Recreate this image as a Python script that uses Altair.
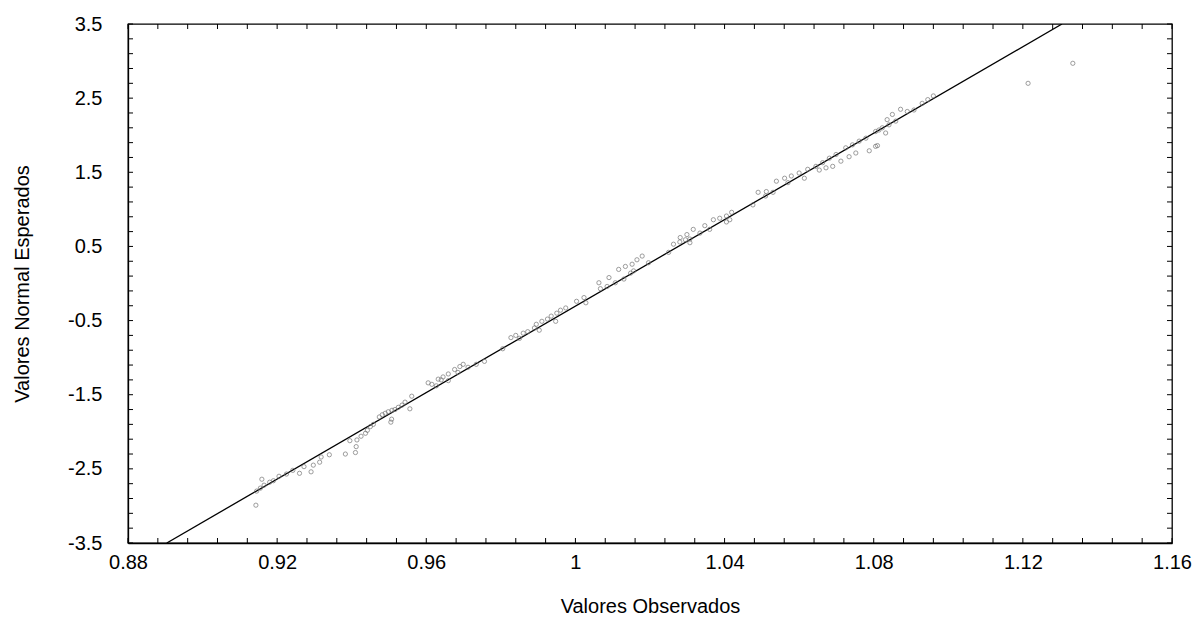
import altair as alt
import pandas as pd

obs_x = [
    0.9143, 0.9145, 0.9155, 0.9165, 0.9180, 0.9190, 0.9159, 0.9205, 0.9225, 0.9242,
    0.9260, 0.9272, 0.9291, 0.9297, 0.9314, 0.9318, 0.9340, 0.9383, 0.9410, 0.9412,
    0.9414, 0.9395, 0.9425, 0.9437, 0.9442, 0.9450, 0.9458, 0.9505, 0.9507, 0.9474,
    0.9482, 0.9490, 0.9498, 0.9508, 0.9516, 0.9525, 0.9556, 0.9535, 0.9543, 0.9561,
    0.9605, 0.9615, 0.9627, 0.9632, 0.9640, 0.9645, 0.9659, 0.9659, 0.9676, 0.9685,
    0.9690, 0.9699, 0.9712, 0.9734, 0.9756,
    0.9805, 0.9827, 0.9840, 0.9850, 0.9860, 0.9872, 0.9890, 0.9895, 0.9903, 0.9910,
    0.9925, 0.9935, 0.9947, 0.9950, 0.9960, 0.9974, 1.0003, 1.0023, 1.0028,
    1.0063, 1.0067, 1.0085, 1.0090, 1.0107, 1.0130, 1.0148, 1.0116, 1.0134, 1.0156,
    1.0152, 1.0165, 1.0179, 1.0196,
    1.0250, 1.0263, 1.0280, 1.0295, 1.0307, 1.0281, 1.0299, 1.0316, 1.0307, 1.0334,
    1.0360, 1.0347, 1.0370, 1.0387, 1.0405, 1.0419, 1.0405, 1.0414,
    1.0476, 1.0490, 1.0512, 1.0530, 1.0510, 1.0539, 1.0561, 1.0579, 1.0570, 1.0600,
    1.0614, 1.0623, 1.0645, 1.0663, 1.0681, 1.0699, 1.0654, 1.0672, 1.0690, 1.0712,
    1.0734, 1.0752, 1.0788, 1.0810, 1.0805, 1.0725, 1.0743, 1.0761, 1.0779, 1.0805,
    1.0823, 1.0841, 1.0859, 1.0832, 1.0814, 1.0836, 1.0850, 1.0872, 1.0890, 1.0908,
    1.0930, 1.0945, 1.0960, 1.1214, 1.1334,
]
normal_y = [
    -2.99, -2.80, -2.76, -2.72, -2.68, -2.66, -2.64, -2.60, -2.57, -2.52,
    -2.56, -2.47, -2.54, -2.45, -2.41, -2.34, -2.31, -2.30, -2.28, -2.20,
    -2.11, -2.12, -2.06, -2.02, -1.98, -1.93, -1.90, -1.87, -1.83, -1.80,
    -1.77, -1.75, -1.73, -1.71, -1.70, -1.67, -1.69, -1.64, -1.60, -1.52,
    -1.34, -1.36, -1.38, -1.29, -1.30, -1.26, -1.31, -1.22, -1.16, -1.20,
    -1.12, -1.09, -1.13, -1.09, -1.05,
    -0.88, -0.73, -0.70, -0.74, -0.67, -0.65, -0.60, -0.55, -0.63, -0.51,
    -0.48, -0.44, -0.51, -0.40, -0.36, -0.33, -0.24, -0.19, -0.26,
    0.01, -0.07, -0.04, 0.08, 0.01, 0.06, 0.14, 0.19, 0.23, 0.17,
    0.26, 0.32, 0.37, 0.28,
    0.42, 0.53, 0.56, 0.59, 0.55, 0.62, 0.66, 0.73, 0.60, 0.68,
    0.73, 0.78, 0.86, 0.88, 0.91, 0.96, 0.83, 0.86,
    1.06, 1.23, 1.24, 1.23, 1.18, 1.38, 1.42, 1.45, 1.36, 1.49,
    1.42, 1.54, 1.58, 1.63, 1.69, 1.74, 1.53, 1.56, 1.58, 1.65,
    1.71, 1.76, 1.79, 1.86, 1.85, 1.83, 1.87, 1.92, 1.96, 2.05,
    2.10, 2.14, 2.19, 2.03, 2.07, 2.21, 2.28, 2.35, 2.32, 2.34,
    2.43, 2.48, 2.53, 2.70, 2.97,
]

# Reference (fitted) line endpoints
line_x = [0.8904, 1.1305]
line_y = [-3.5, 3.5]

# Axis labels
x_labels = [0.88, 0.92, 0.96, 1.0, 1.04, 1.08, 1.12, 1.16]
y_labels = [-3.5, -2.5, -1.5, -0.5, 0.5, 1.5, 2.5, 3.5]
x_minor = [round(0.88 + 0.008 * i, 3) for i in range(36)]
y_minor = [round(-3.5 + 0.2 * i, 1) for i in range(36)]

W, H = 1044, 519
FONT = "Liberation Sans"
FS = 20

pts = pd.DataFrame({"x": obs_x, "y": normal_y})
ln = pd.DataFrame({"x": line_x, "y": line_y})
xt = pd.DataFrame({"x": x_minor})
yt = pd.DataFrame({"y": y_minor})

xscale = alt.Scale(domain=[0.88, 1.16], nice=False, zero=False)
yscale = alt.Scale(domain=[-3.5, 3.5], nice=False, zero=False)

x_axis = alt.Axis(
    values=x_labels, format="~g", title="Valores Observados", grid=False,
    ticks=False, labelPadding=9, labelFontSize=FS, titleFontSize=FS,
    labelFont=FONT, titleFont=FONT, labelColor="black", titleColor="black",
    titleFontWeight="normal", titleBaseline="top", titleY=53,
    domainColor="black", domainWidth=1.3, labelFlush=False,
)
y_axis = alt.Axis(
    values=y_labels, title="Valores Normal Esperados", grid=False,
    labelExpr="(datum.value < 0 ? '-' : '') + format(abs(datum.value), '.1f')",
    ticks=False, labelPadding=26, labelFontSize=FS, titleFontSize=FS,
    labelFont=FONT, titleFont=FONT, labelColor="black", titleColor="black",
    titleFontWeight="normal", titleX=-106, titleY=H / 2, titleAngle=-90,
    titleAlign="center", titleBaseline="middle",
    domainColor="black", domainWidth=1.3, labelFlush=False,
)

points = alt.Chart(pts).mark_point(
    shape="circle", filled=False, size=18, stroke="#707070", strokeWidth=0.8, opacity=0.85
).encode(
    x=alt.X("x:Q", scale=xscale, axis=x_axis),
    y=alt.Y("y:Q", scale=yscale, axis=y_axis),
)

line = alt.Chart(ln).mark_line(color="black", strokeWidth=1.3, clip=True).encode(
    x=alt.X("x:Q", scale=xscale),
    y=alt.Y("y:Q", scale=yscale),
)

tick_style = dict(color="black", strokeWidth=1)
tb = alt.Chart(xt).mark_rule(**tick_style).encode(
    x=alt.X("x:Q", scale=xscale), y=alt.value(H), y2=alt.value(H - 5))
tt = alt.Chart(xt).mark_rule(**tick_style).encode(
    x=alt.X("x:Q", scale=xscale), y=alt.value(0), y2=alt.value(5))
tl = alt.Chart(yt).mark_rule(**tick_style).encode(
    y=alt.Y("y:Q", scale=yscale), x=alt.value(0), x2=alt.value(5))
tr = alt.Chart(yt).mark_rule(**tick_style).encode(
    y=alt.Y("y:Q", scale=yscale), x=alt.value(W), x2=alt.value(W - 5))

chart = alt.layer(line, points, tb, tt, tl, tr).properties(
    width=W, height=H,
    autosize=alt.AutoSizeParams(type="none"),
    padding={"left": 128, "top": 24, "right": 24, "bottom": 75},
    background="white",
).configure_view(stroke="black", strokeWidth=1.3)

chart.save("out.html", embed_options={"renderer": "svg", "actions": False})
